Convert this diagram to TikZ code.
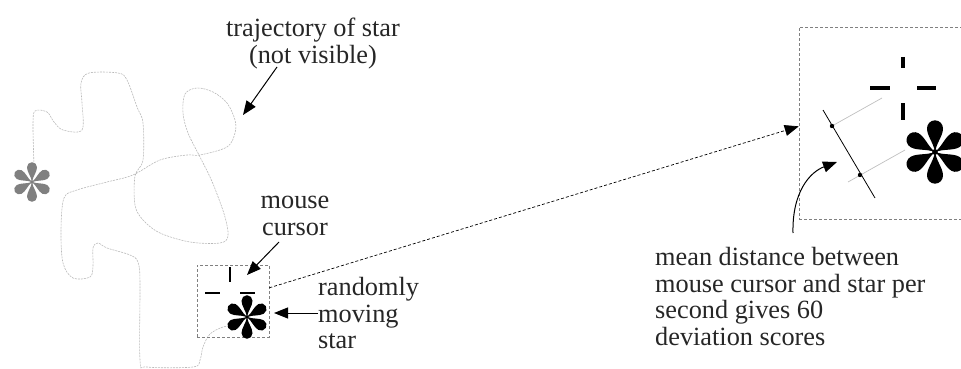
\documentclass[tikz,border=0pt]{standalone}
\usepackage{fontspec}
\setmainfont{Liberation Serif}
\usetikzlibrary{arrows.meta}

\tikzset{
  lbl/.style={font=\fontsize{26.3}{26.7}\selectfont, inner sep=0pt, text=black!85},
  arr/.style={-{Triangle[length=14pt,width=11pt]}, line width=1pt},
  box/.style={draw=gray, dash pattern=on 3pt off 2pt, line width=0.6pt, inner sep=0pt},
  traj/.style={gray!55, dash pattern=on 2pt off 1pt, line width=0.6pt},
  crossbar/.style={line width=#1},
  pics/asterisk/.style={code={
    \fill (0,0) circle (0.09);
    \foreach \a in {30,90,...,330}
      \fill[rotate=\a] (0,0) .. controls (0.3,0.05) and (0.5,0.25) .. (0.74,0.25)
        arc[start angle=90,end angle=-90,radius=0.25]
        .. controls (0.5,-0.25) and (0.3,-0.05) .. (0,0);
  }}
}

\begin{document}
\begin{tikzpicture}[x=1pt,y=-1pt]
  \useasboundingbox (0,0) rectangle (961,369);

  % path of the star
  \draw[traj] plot[smooth,tension=0.55] coordinates {
    (34,165) (33,125) (35,111) (47,112) (54,122) (63,130) (82,130) (82,103)
    (81,83) (89,73) (118,73) (127,80) (137,107) (143,123) (143,160) (135,176)
    (135,205) (143,220) (160,233) (190,242) (220,243) (228,236) (225,217)
    (217,194) (210,177) (200,157) (188,133) (183,113) (185,94) (197,88)
    (213,92) (227,103) (235,120) (235,133) (227,147) (200,155) (187,155)
    (160,160) (133,175) (107,182) (77,190) (64,198) (61,230) (63,263)
    (73,278) (90,277) (93,266) (93,248) (98,243) (107,248) (130,255)
    (138,262) (140,282) (140,360) (147,367) (193,367) (200,360) (203,347)
    (210,334) (223,327) (232,326)};
  \pic[gray,scale=20] at (32,182) {asterisk};

  % small window
  \node[box, minimum width=72pt, minimum height=72pt] (zoom) at (233,301) {};
  \draw[crossbar=1.6pt] (230,267) -- (230,282);
  \draw[crossbar=1.6pt] (205,293) -- (220,293);
  \draw[crossbar=1.6pt] (240,293) -- (255,293);
  \pic[black,scale=22] at (247,317) {asterisk};

  % enlarged window
  \node[box, minimum width=191pt, minimum height=192pt] (bigbox) at (894.5,123) {};
  \draw[crossbar=4pt] (903,57) -- (903,68);
  \draw[crossbar=4pt] (903,103) -- (903,120);
  \draw[crossbar=4pt] (870,88) -- (890,88);
  \draw[crossbar=4pt] (917,88) -- (936,88);
  \pic[black,scale=32] at (935,152) {asterisk};

  \coordinate (ax1) at (823,110);
  \coordinate (ax2) at (875,198);
  \coordinate (pc) at (832,126);
  \coordinate (ps) at (860,175);
  \draw[line width=0.8pt] (ax1) -- (ax2);
  \draw[gray!50, line width=0.7pt] (pc) -- (882,98);
  \draw[gray!50, line width=0.7pt] (848,182) -- (905,150);
  \fill (pc) circle (2.2pt);
  \fill (ps) circle (2.2pt);

  \draw[arr, dash pattern=on 3pt off 2pt, line width=0.7pt] (zoom.20) -- (bigbox.182);

  % labels
  \node[lbl, align=center, anchor=north] (trajtext) at (313,18)
    {trajectory of star\\(not visible)};
  \node[lbl, align=center, anchor=north] (cursortext) at (295,196)
    {mouse\\cursor};
  \node[lbl, align=left, anchor=north west] (startext) at (318,277)
    {randomly\\moving\\star};
  \node[lbl, align=left, anchor=north west] (meantext) at (655,247)
    {mean distance between\\mouse cursor and star per\\second gives 60\\deviation scores};

  \coordinate (trajfrom) at (277,67);
  \coordinate (trajtip) at (243,115);
  \coordinate (curfrom) at (279,242);
  \coordinate (curtip) at (247,275);
  \coordinate (starfrom) at (318,313);
  \coordinate (startip) at (274,313);
  \coordinate (meanfrom) at (793,233);
  \coordinate (meantip) at (837,162);
  \draw[arr] (trajfrom) -- (trajtip);
  \draw[arr] (curfrom) -- (curtip);
  \draw[arr] (starfrom) -- (startip);
  \draw[arr] (meanfrom) .. controls (792,192) and (810,172) .. (meantip);
\end{tikzpicture}
\end{document}
